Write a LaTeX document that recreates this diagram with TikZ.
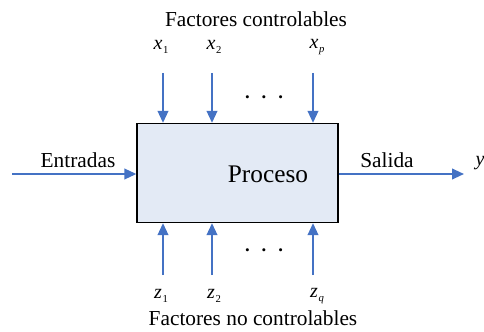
\documentclass[tikz,border=0pt]{standalone}
\usepackage{fontspec}
\setmainfont{Liberation Serif}
\usetikzlibrary{arrows.meta}
\definecolor{flow}{HTML}{4472C4}
\definecolor{boxfill}{HTML}{E3EAF5}
\newcommand\var[2]{\textit{#1}\kern0.5pt\raisebox{-0.35ex}{\footnotesize #2}}
\begin{document}
\begin{tikzpicture}[x=0.75pt,y=-0.75pt,
  flowarrow/.style={draw=flow,line width=1.4pt,-{Triangle[length=9pt,width=8pt]}},
  label/.style={font=\fontsize{16}{18}\selectfont,inner sep=0pt},
  varlabel/.style={font=\fontsize{15}{17}\selectfont,inner sep=0pt},
  dotsstyle/.style={font=\fontsize{14}{16}\selectfont\bfseries,inner sep=0pt}]
\useasboundingbox (0,0) rectangle (484,331);
% process block
\node[draw=black,line width=1pt,fill=boxfill,minimum width=201*0.75pt,minimum height=99*0.75pt] (proc) at (237.5,173) {};
\node[font=\fontsize{19}{22}\selectfont,inner sep=0pt] (proctext) at (268,174) {Proceso};
% controllable factors
\node[label] (ctitle) at (256,19) {Factores controlables};
\node[varlabel] (x1) at (161,47) {\var{x}{1}};
\node[varlabel] (x2) at (214,47) {\var{x}{2}};
\node[varlabel] (xp) at (317,47) {\var{x}{\textit{p}}};
\coordinate (x1s) at (163,73);
\coordinate (x2s) at (212,73);
\coordinate (xps) at (313,73);
\draw[flowarrow] (x1s) -- (x1s |- proc.north);
\draw[flowarrow] (x2s) -- (x2s |- proc.north);
\draw[flowarrow] (xps) -- (xps |- proc.north);
\node[dotsstyle] (tdots) at (264,97) {.\hspace{9pt}.\hspace{9pt}.};
% uncontrollable factors
\coordinate (z1s) at (163,275);
\coordinate (z2s) at (212,275);
\coordinate (zqs) at (313,275);
\draw[flowarrow] (z1s) -- (z1s |- proc.south);
\draw[flowarrow] (z2s) -- (z2s |- proc.south);
\draw[flowarrow] (zqs) -- (zqs |- proc.south);
\node[dotsstyle] (bdots) at (264,250) {.\hspace{9pt}.\hspace{9pt}.};
\node[varlabel] (z1) at (161,296) {\var{z}{1}};
\node[varlabel] (z2) at (214,296) {\var{z}{2}};
\node[varlabel] (zq) at (317,296) {\var{z}{\textit{q}}};
\node[label] (utitle) at (253,318) {Factores no controlables};
% input and output
\coordinate (in) at (12,174);
\coordinate (out) at (464,174);
\draw[flowarrow] (in) -- (in -| proc.west);
\draw[flowarrow] (proc.east |- out) -- (out);
\node[label] (entradas) at (78,160) {Entradas};
\node[label] (salida) at (387,160) {Salida};
\node[varlabel] (y) at (480,163) {\textit{y}};
\end{tikzpicture}
\end{document}
